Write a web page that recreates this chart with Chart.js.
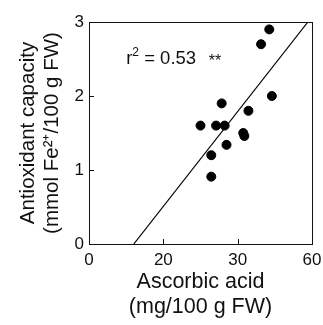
<!DOCTYPE html>
<html>
<head>
<meta charset="utf-8">
<script src="https://cdn.jsdelivr.net/npm/chart.js@4"></script>
<style>
  html, body { margin: 0; padding: 0; background: #fff; }
  #wrap { position: relative; width: 323px; height: 325px; }
  .note { position: absolute; font-family: 'Liberation Sans', Arial, sans-serif; color: #111; line-height: 1; white-space: nowrap; }
  #r2 { font-size: 18.5px; }
  #r2 span { font-size: 12px; position: relative; top: -8px; }
  #stars { font-size: 16px; }
</style>
</head>
<body>
<div id="wrap">
  <canvas id="canvas" width="323" height="325"></canvas>
  <div id="r2" class="note">r<span>2</span> = 0.53</div>
  <div id="stars" class="note">**</div>
</div>
<script>
// data
const ascorbic = [48.5, 46.3, 49.2, 35.7, 42.9, 30.0, 34.2, 36.5, 41.5, 41.8, 37.0, 32.9, 32.9];
const antiox   = [2.90, 2.70, 2.00, 1.90, 1.80, 1.60, 1.60, 1.60, 1.50, 1.46, 1.34, 1.20, 0.91];
const fitX = [12.05, 58.9];
const fitY = [0, 3];
const xTickValues = [0, 20, 40, 60];
const xTickLabels = ['0', '20', '30', '60'];
const yTickValues = [0, 1, 2, 3];
const yTickLabels = ['0', '1', '2', '3'];

const fontFam = "'Liberation Sans', Arial, sans-serif";
const ink = '#111';

const points = ascorbic.map((x, i) => ({ x: x, y: antiox[i] }));
const fitLine = fitX.map((x, i) => ({ x: x, y: fitY[i] }));

// box around the plot + short inward ticks
const frame = {
  id: 'frame',
  afterDraw(chart) {
    const c = chart.ctx;
    const a = chart.chartArea;
    const xs = chart.scales.x, ys = chart.scales.y;
    c.save();
    c.strokeStyle = ink;
    c.lineWidth = 1;
    c.strokeRect(Math.round(a.left) + 0.5, Math.round(a.top) + 0.5,
      Math.round(a.right - a.left), Math.round(a.bottom - a.top));
    c.beginPath();
    xTickValues.forEach(v => {
      const px = Math.round(xs.getPixelForValue(v)) + 0.5;
      c.moveTo(px, a.bottom);
      c.lineTo(px, a.bottom - 5);
    });
    yTickValues.forEach(v => {
      const py = Math.round(ys.getPixelForValue(v)) + 0.5;
      c.moveTo(a.left, py);
      c.lineTo(a.left + 5, py);
    });
    c.stroke();
    c.restore();
  }
};

const chart = new Chart(document.getElementById('canvas'), {
  type: 'scatter',
  data: {
    datasets: [{
      data: points,
      backgroundColor: '#000',
      borderColor: '#000',
      pointRadius: 4.5
    }, {
      type: 'line',
      data: fitLine,
      borderColor: '#000',
      borderWidth: 1.2,
      pointRadius: 0,
      fill: false
    }]
  },
  options: {
    responsive: false,
    animation: false,
    events: [],
    layout: { padding: { top: 22, right: 11, left: 0, bottom: 0 } },
    plugins: { legend: { display: false }, tooltip: { enabled: false } },
    scales: {
      x: {
        type: 'linear',
        min: 0, max: 60,
        afterBuildTicks(s) { s.ticks = xTickValues.map(v => ({ value: v })); },
        afterFit(s) { s.height = 81; s.paddingLeft = 0; s.paddingRight = 0; },
        ticks: {
          autoSkip: false,
          maxRotation: 0,
          padding: 6,
          color: ink,
          font: { family: fontFam, size: 17 },
          callback: (v, i) => xTickLabels[i]
        },
        grid: { display: false, drawTicks: false },
        border: { display: false },
        title: {
          display: true,
          text: ['Ascorbic acid', '(mg/100 g FW)'],
          color: ink,
          font: { family: fontFam, size: 21.5, lineHeight: 1.15 },
          padding: { top: 0, bottom: 6 }
        }
      },
      y: {
        min: 0, max: 3,
        afterBuildTicks(s) { s.ticks = yTickValues.map(v => ({ value: v })); },
        afterFit(s) { s.width = 89; s.paddingTop = 0; s.paddingBottom = 0; },
        ticks: {
          autoSkip: false,
          padding: 5,
          color: ink,
          font: { family: fontFam, size: 17 },
          callback: (v, i) => yTickLabels[i]
        },
        grid: { display: false, drawTicks: false },
        border: { display: false },
        title: {
          display: true,
          text: ['Antioxidant capacity', '(mmol Fe²⁺/100 g FW)'],
          color: ink,
          font: { family: fontFam, size: 20.5, lineHeight: 1.15 },
          padding: { top: 17, bottom: 0 }
        }
      }
    }
  },
  plugins: [frame]
});

// place the r2 note from the chart's own scales
const xs = chart.scales.x, ys = chart.scales.y;
const base = ys.getPixelForValue(2.42);
const r2 = document.getElementById('r2');
r2.style.left = xs.getPixelForValue(10) + 'px';
r2.style.top = (base - 15.7) + 'px';
const stars = document.getElementById('stars');
stars.style.left = xs.getPixelForValue(32.2) + 'px';
stars.style.top = (base + 2 - 13.5) + 'px';
</script>
</body>
</html>
